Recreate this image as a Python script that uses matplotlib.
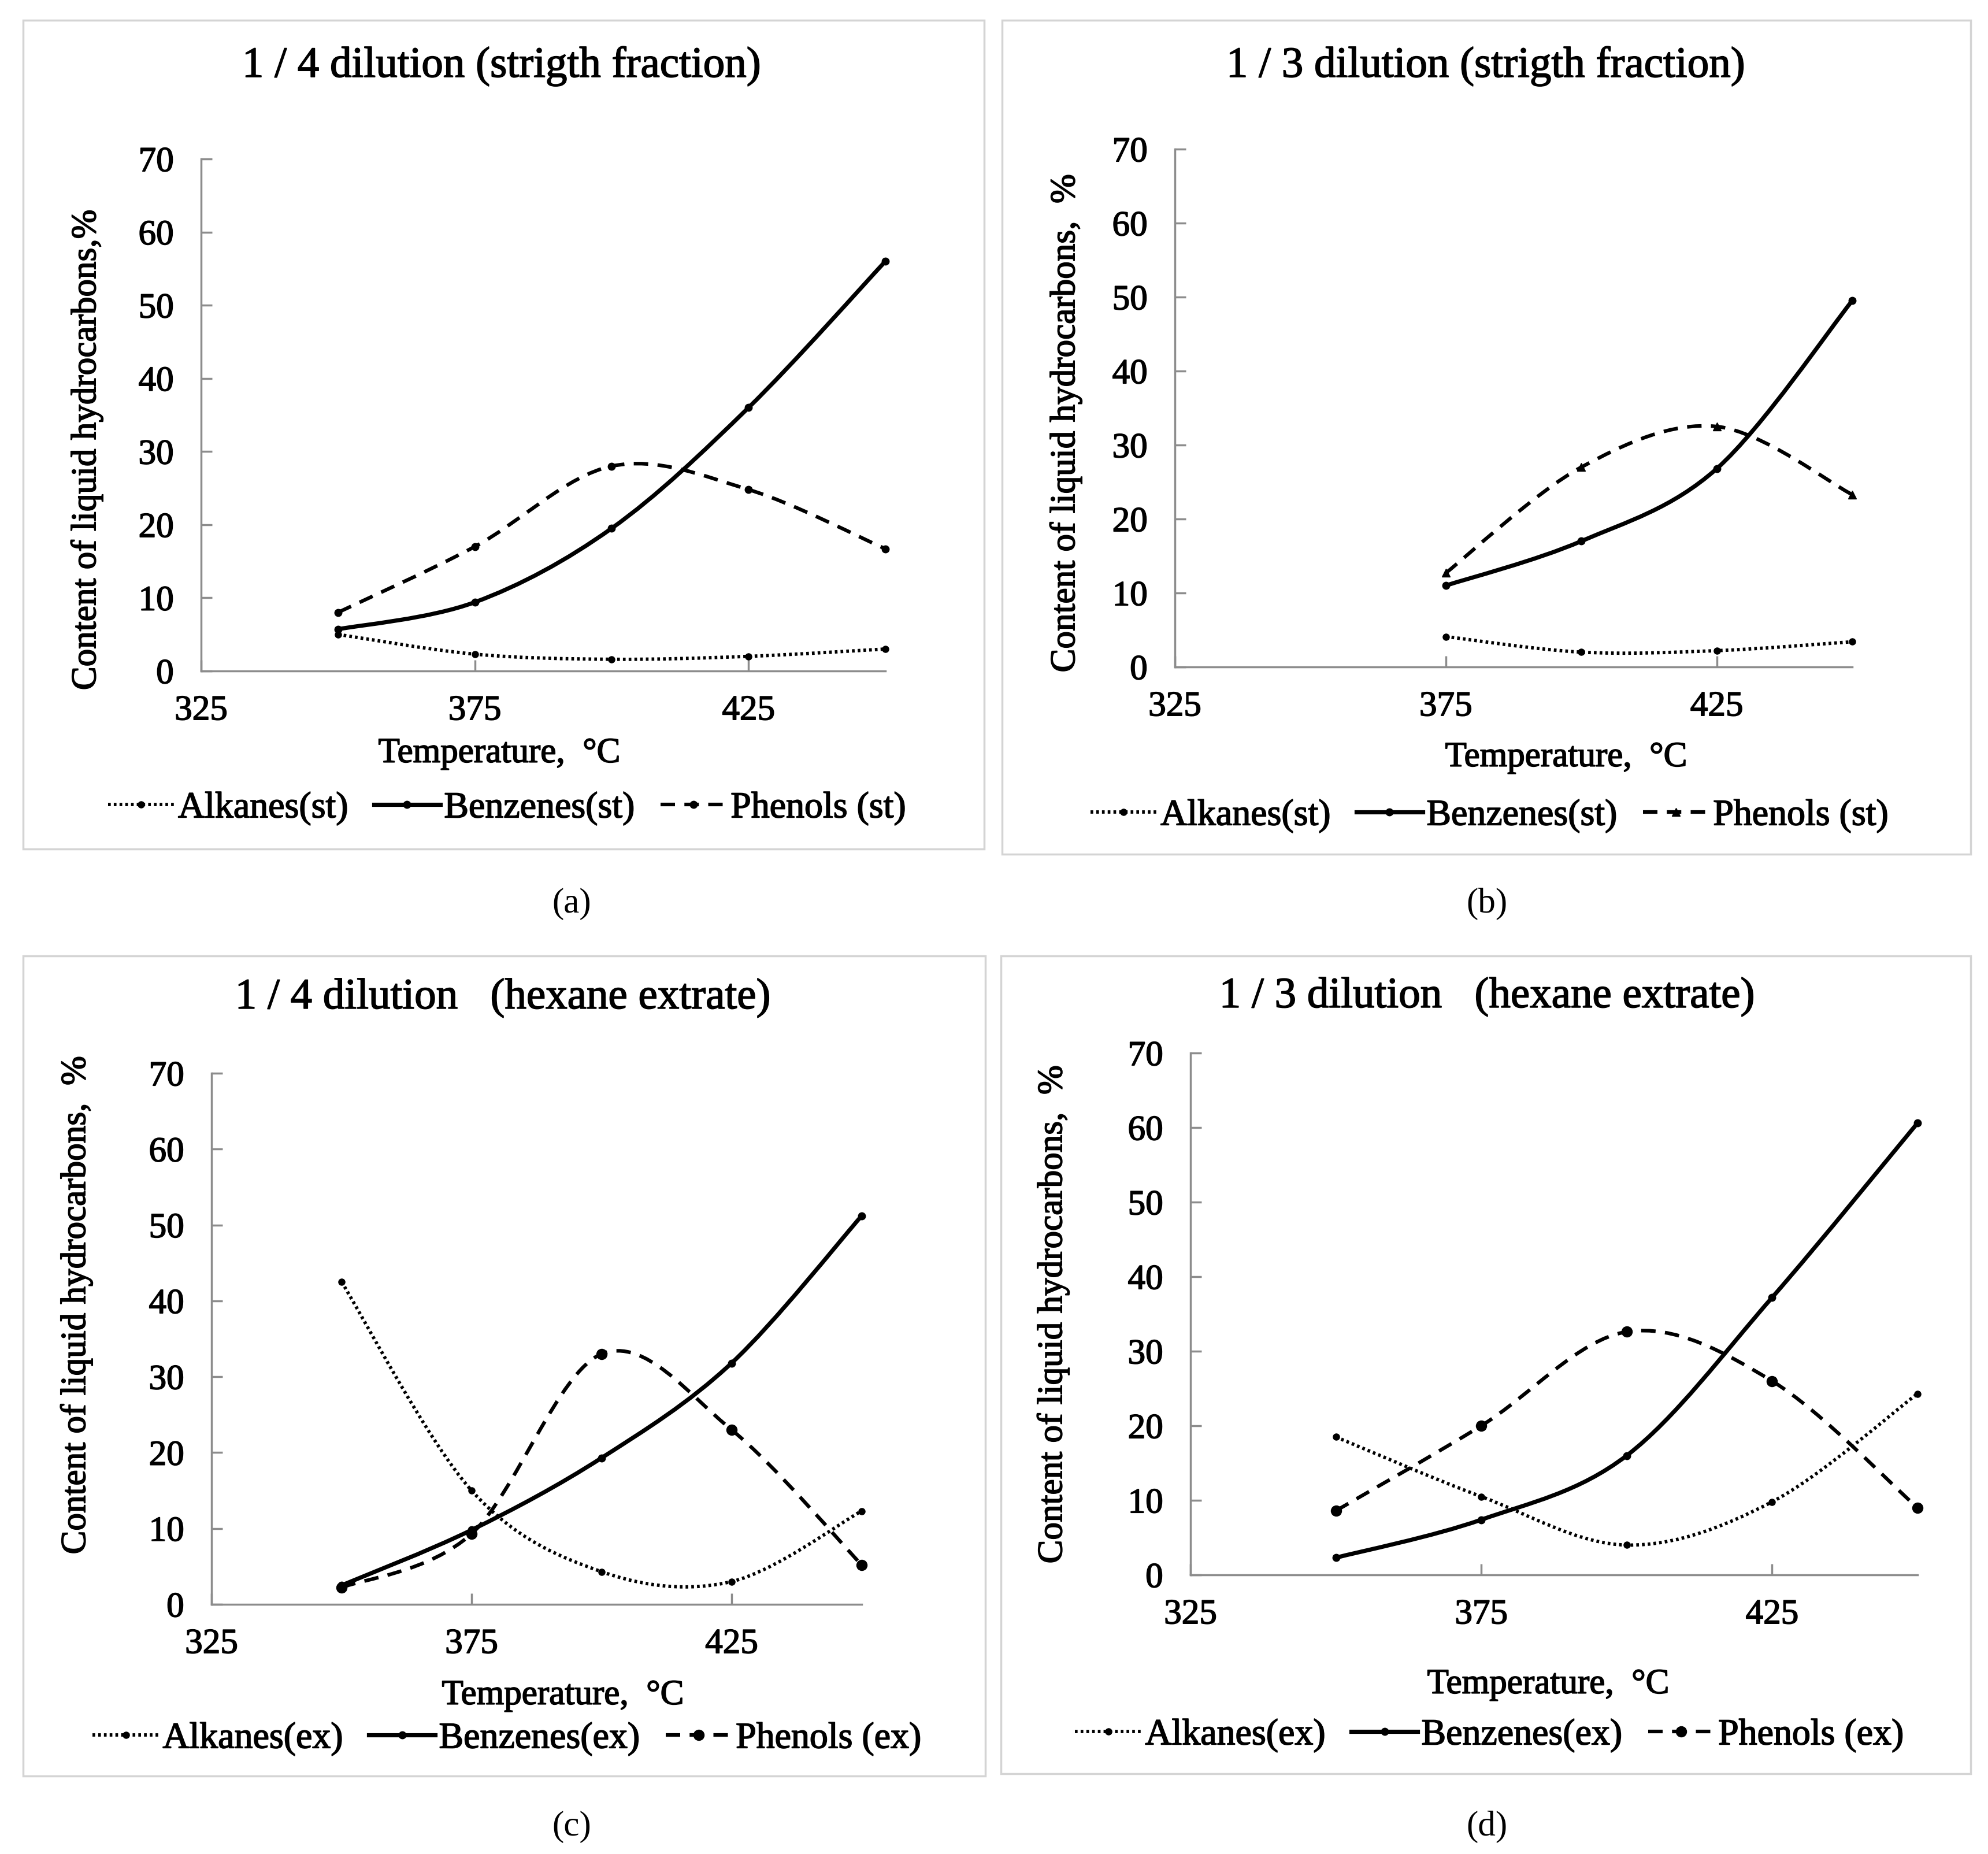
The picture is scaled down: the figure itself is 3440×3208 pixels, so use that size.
import numpy as np
import matplotlib
matplotlib.use('Agg')
import matplotlib.pyplot as plt
import matplotlib.patheffects as pe
from matplotlib.path import Path
from matplotlib.patches import PathPatch, Rectangle
from matplotlib.lines import Line2D

# temperatures, degC
temps = [350, 375, 400, 425, 450]
temps_b = [375, 400, 425, 450]

# (a) 1/4 dilution, straight fraction
alkanes_a = [5.0, 2.3, 1.6, 2.0, 3.0]
benzenes_a = [5.7, 9.4, 19.5, 36.0, 56.0]
phenols_a = [8.0, 17.0, 28.0, 24.8, 16.7]

# (b) 1/3 dilution, straight fraction
alkanes_b = [4.1, 2.0, 2.2, 3.4]
benzenes_b = [11.0, 17.0, 26.8, 49.5]
phenols_b = [12.7, 27.0, 32.5, 23.3]

# (c) 1/4 dilution, hexane extract
alkanes_c = [42.5, 15.0, 4.3, 3.0, 12.3]
benzenes_c = [2.5, 9.8, 19.3, 31.8, 51.2]
phenols_c = [2.2, 9.3, 33.0, 23.0, 5.2]

# (d) 1/3 dilution, hexane extract
alkanes_d = [18.5, 10.5, 4.0, 9.8, 24.3]
benzenes_d = [2.3, 7.4, 16.0, 37.2, 60.6]
phenols_d = [8.6, 20.0, 32.6, 26.0, 9.0]

titles = ['1 / 4 dilution (strigth fraction)', '1 / 3 dilution (strigth fraction)',
          '1 / 4 dilution   (hexane extrate)', '1 / 3 dilution   (hexane extrate)']
ylabels = ['Content of liquid hydrocarbons,%', 'Content of liquid hydrocarbons,  %',
           'Content of liquid hydrocarbons,  %', 'Content of liquid hydrocarbons,  %']
names_st = ['Alkanes(st)', 'Benzenes(st)', 'Phenols (st)']
names_ex = ['Alkanes(ex)', 'Benzenes(ex)', 'Phenols (ex)']
letters = ['(a)', '(b)', '(c)', '(d)']

W, H = 3441, 3208
plt.rcParams['font.family'] = ['Liberation Serif', 'DejaVu Serif']
fig = plt.figure(figsize=(W / 100, H / 100), dpi=100)

# slightly heavier text, like the scanned original
heavy = [pe.withStroke(linewidth=1.2, foreground='black')]

def fx(px):
    return px / W

def fy(py):
    return 1 - py / H

def smooth_path(x, y):
    # excel-like smoothed line (catmull-rom as cubic bezier)
    pts = np.column_stack([x, y]).astype(float)
    n = len(pts)
    verts = [pts[0]]
    codes = [Path.MOVETO]
    for i in range(n - 1):
        p0 = pts[max(i - 1, 0)]
        p1 = pts[i]
        p2 = pts[i + 1]
        p3 = pts[min(i + 2, n - 1)]
        verts += [p1 + (p2 - p0) / 6, p2 - (p3 - p1) / 6, p2]
        codes += [Path.CURVE4] * 3
    return Path(verts, codes)

GRAY = '#8c8c8c'
DOT = (0, (0.8, 0.9))
DASH = (0, (4, 2.6))

# panel layout in pixels: box, axes (x0, x1, ytop, ybottom), title, ylabel x, xlabel, legend, letter
panels = [
    dict(box=(40, 35, 1703, 1469), ax=(348, 1532, 275, 1161), title=(868, 115),
         ylab=(150, 778), xlab=(864, 1304), leg=(877, 1399), let=(989, 1564)),
    dict(box=(1734, 35, 3410, 1478), ax=(2033, 3205, 258, 1154), title=(2571, 115),
         ylab=(1844, 732), xlab=(2710, 1311), leg=(2577, 1412), let=(2573, 1564)),
    dict(box=(40, 1654, 1705, 3073), ax=(366, 1491, 1857, 2776), title=(870, 1727),
         ylab=(132, 2258), xlab=(974, 2934), leg=(877, 3009), let=(989, 3161)),
    dict(box=(1732, 1654, 3410, 3069), ax=(2060, 3318, 1822, 2725), title=(2573, 1725),
         ylab=(1822, 2274), xlab=(2679, 2915), leg=(2577, 3003), let=(2573, 3161)),
]

series = [
    (temps, alkanes_a, benzenes_a, phenols_a, names_st, 'o', 9),
    (temps_b, alkanes_b, benzenes_b, phenols_b, names_st, '^', 10),
    (temps, alkanes_c, benzenes_c, phenols_c, names_ex, 'o', 13),
    (temps, alkanes_d, benzenes_d, phenols_d, names_ex, 'o', 13),
]

for i, (p, s) in enumerate(zip(panels, series)):
    bx0, by0, bx1, by1 = p['box']
    fig.patches.append(Rectangle((fx(bx0), fy(by1)), fx(bx1 - bx0), (by1 - by0) / H,
                                 transform=fig.transFigure, fill=False,
                                 edgecolor='#d4d4d4', linewidth=2.5))
    x0, x1, yt, yb = p['ax']
    ax = fig.add_axes([fx(x0), fy(yb), fx(x1 - x0), (yb - yt) / H])
    x, alk, ben, phe, names, pmark, pms = s

    styles = [(alk, DOT, 4.2, 'o', 8), (ben, '-', 5.2, 'o', 9), (phe, DASH, 4.5, pmark, pms)]
    handles = []
    for (vals, ls, lw, mk, ms), name in zip(styles, names):
        patch = PathPatch(smooth_path(x, vals), fill=False, edgecolor='black',
                          linewidth=lw, linestyle=ls, capstyle='butt', clip_on=False)
        ax.add_patch(patch)
        ax.plot(x, vals, linestyle='none', marker=mk, markersize=ms, color='black',
                clip_on=False, zorder=3)
        handles.append(Line2D([], [], color='black', linestyle=ls, linewidth=lw,
                              marker=mk, markersize=ms, label=name))

    ax.set_xlim(325, 450)
    ax.set_ylim(0, 70)
    ax.set_xticks([325, 375, 425])
    ax.set_yticks(range(0, 71, 10))
    for side in ['top', 'right']:
        ax.spines[side].set_visible(False)
    for side in ['left', 'bottom']:
        ax.spines[side].set_color(GRAY)
        ax.spines[side].set_linewidth(2.5)
    ax.tick_params(axis='both', direction='in', length=14, width=2.5, color=GRAY,
                   labelsize=44)
    ax.tick_params(axis='x', pad=30)
    ax.tick_params(axis='y', pad=34)
    for lab in ax.get_xticklabels() + ax.get_yticklabels():
        lab.set_path_effects(heavy)

    fig.text(fx(p['title'][0]), fy(p['title'][1]), titles[i], fontsize=54,
             ha='center', va='center', path_effects=heavy)
    fig.text(fx(p['ylab'][0]), fy(p['ylab'][1]), ylabels[i], fontsize=44,
             rotation=90, ha='center', va='center', path_effects=heavy)
    fig.text(fx(p['xlab'][0]), fy(p['xlab'][1]), 'Temperature,  \u00b0C', fontsize=44,
             ha='center', va='center', path_effects=heavy)
    fig.text(fx(p['let'][0]), fy(p['let'][1]), letters[i], fontsize=44,
             ha='center', va='center')
    leg = ax.legend(handles=handles, loc='center',
                    bbox_to_anchor=(fx(p['leg'][0]), fy(p['leg'][1])),
                    bbox_transform=fig.transFigure, ncol=3, frameon=False, fontsize=46,
                    handlelength=1.8, handletextpad=0.1, columnspacing=0.7, borderpad=0)
    for t in leg.get_texts():
        t.set_path_effects(heavy)

fig.savefig('out.png', dpi=100, facecolor='white')
